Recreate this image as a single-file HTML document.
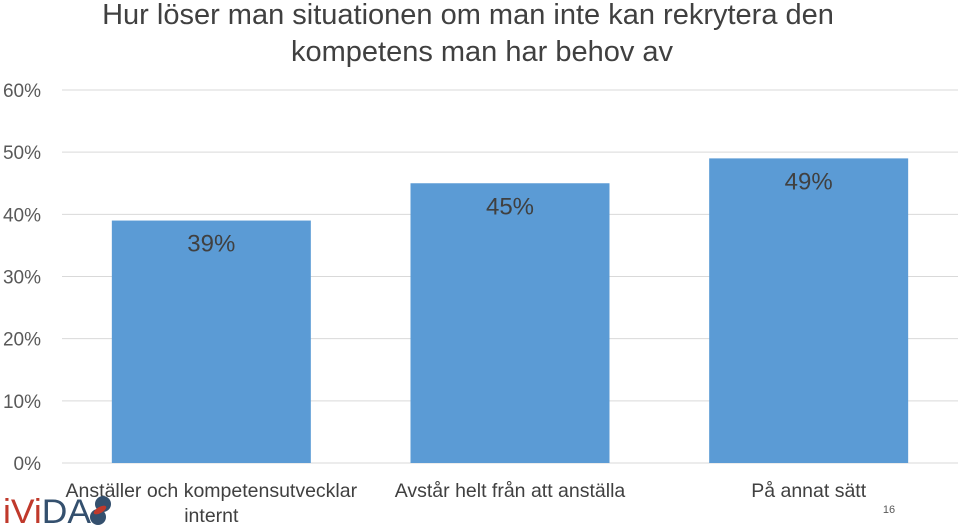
<!DOCTYPE html>
<html><head><meta charset="utf-8"><style>
body{margin:0;background:#fff;}
svg text{font-family:"Liberation Sans",sans-serif;}
</style></head><body>
<svg width="960" height="527" viewBox="0 0 960 527">
<text x="468" y="24" text-anchor="middle" font-size="29" fill="#404040">Hur löser man situationen om man inte kan rekrytera den</text>
<text x="482" y="61" text-anchor="middle" font-size="29" fill="#404040">kompetens man har behov av</text>
<g id="grid"></g><g id="bars"></g><g id="cats"></g>
<g>
<text x="3" y="523" font-size="34" textLength="88" lengthAdjust="spacingAndGlyphs" fill="#c0392b">iVi<tspan fill="#34506e">DA</tspan></text>
<circle cx="103" cy="504" r="8" fill="#34506e"/><circle cx="98" cy="517" r="8" fill="#34506e"/>
<ellipse cx="100" cy="510" rx="7" ry="3" fill="#c0392b" transform="rotate(-30 100 510)"/>
</g>
<text x="889" y="513" text-anchor="middle" font-size="11" fill="#595959">16</text>
</svg>
<script>
const categories=["Anställer och kompetensutvecklar internt","Avstår helt från att anställa","På annat sätt"];
const values=[39,45,49];
const ticks=[0,10,20,30,40,50,60];
const NS="http://www.w3.org/2000/svg";
const x0=62,x1=958,yBase=463,yTop=90,maxV=60;
const y=v=>yBase-(v/maxV)*(yBase-yTop);
const bw=(x1-x0)/categories.length;
function mk(t,a,p){const e=document.createElementNS(NS,t);for(const k in a)e.setAttribute(k,a[k]);p.appendChild(e);return e;}
const grid=document.getElementById('grid');
ticks.forEach(t=>{
 const l=mk('line',{x1:x0,x2:x1,y1:y(t),y2:y(t),stroke:'#d9d9d9','stroke-width':1},grid);
 
 
 const tx=mk('text',{x:41,y:y(t)+7,'text-anchor':'end','font-size':19,fill:'#595959'},grid);
 tx.textContent=t+'%';
 
 
});
const bars=document.getElementById('bars'),cats=document.getElementById('cats');
categories.forEach((c,i)=>{
 const cx=x0+bw*(i+0.5),w=199;
 const r=mk('rect',{x:cx-w/2,y:y(values[i]),width:w,height:yBase-y(values[i]),fill:'#5b9bd5'},bars);
 
 
 const lb=mk('text',{x:cx,y:y(values[i])+31,'text-anchor':'middle','font-size':24,fill:'#404040'},bars);
 lb.textContent=values[i]+'%';
 
 
 const words=c==="Anställer och kompetensutvecklar internt"?["Anställer och kompetensutvecklar","internt"]:[c];
 words.forEach((wd,j)=>{
  const t=mk('text',{x:cx,y:497+j*25,'text-anchor':'middle','font-size':19.5,fill:'#404040'},cats);
  t.textContent=wd;
  
  
 });
});
</script>
</body></html>
